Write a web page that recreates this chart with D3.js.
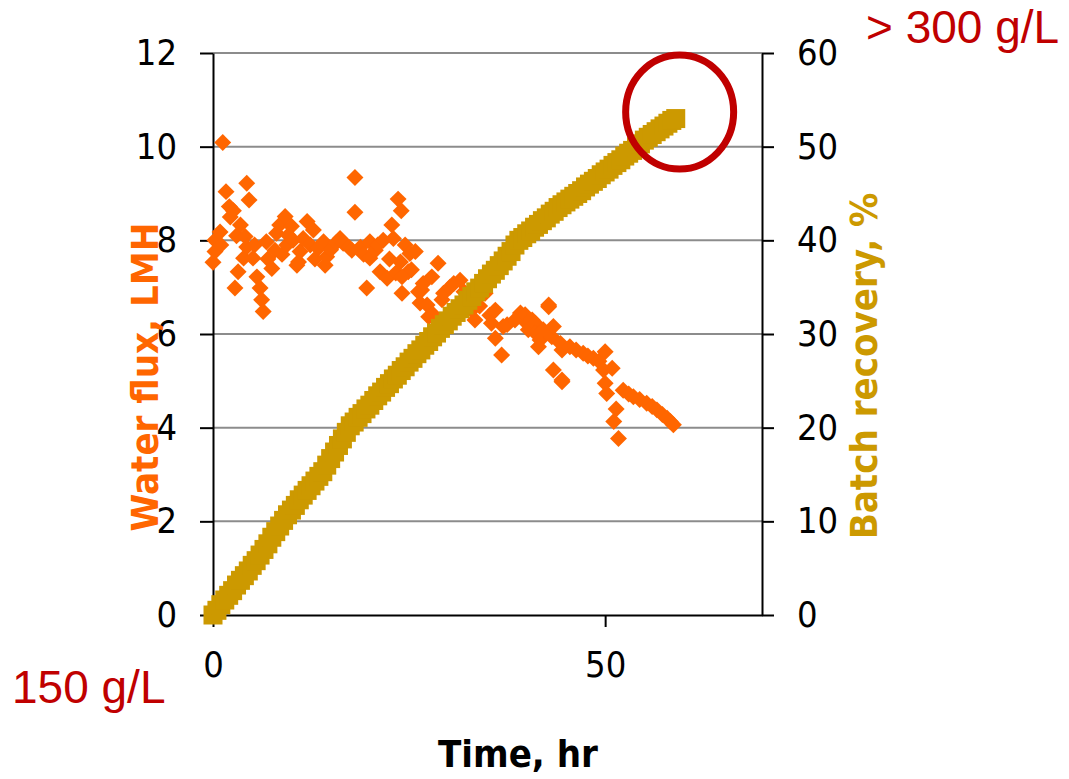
<html>

<head>
  <meta charset="UTF-8">
  <title>Water flux and batch recovery</title>
  <script src="https://d3js.org/d3.v7.min.js"></script>
  <style>
    body {
      margin: 0;
      background-color: white;
    }
    .tick-label {
      font-family: "DejaVu Sans Condensed", "DejaVu Sans", sans-serif;
      font-stretch: condensed;
      font-size: 36px;
      fill: black;
    }
    .axis-title {
      font-family: "DejaVu Sans Condensed", "DejaVu Sans", sans-serif;
      font-stretch: condensed;
      font-weight: bold;
      font-size: 38px;
    }
    .note {
      font-family: "Liberation Sans", Arial, sans-serif;
      font-size: 46px;
      fill: #C00000;
    }
  </style>
</head>

<body>
  <svg></svg>
</body>

<script>
  let width = 1069,
    height = 779;

  // Water flux (LMH) vs time (hr)
  let fluxTime = [0, 0.25, 0.25, 0.9, 1.0, 1.24, 1.66, 2.08, 2.2, 2.6, 2.8, 3.0, 3.2, 3.5, 3.9, 4.1, 4.3, 4.3, 4.6, 5.1, 5.3, 5.6, 6.0, 6.2, 6.4, 6.8, 7.0, 7.5, 7.9, 8.1, 8.5, 8.8, 9.2, 9.4, 9.6, 10.0, 10.2, 10.7, 10.9, 11.1, 11.5, 12.0, 12.4, 12.8, 13.0, 13.4, 14.1, 14.3, 14.5, 15.0, 15.7, 16.2, 16.6, 17.3, 17.7, 18.1, 18.1, 18.8, 19.2, 19.6, 20.0, 20.0, 20.7, 21.0, 21.3, 21.7, 22.2, 22.5, 22.8, 23.0, 23.3, 23.6, 23.9,
    24.0, 24.1, 24.1, 24.5, 24.9, 25.1, 25.3, 25.8, 26.2, 26.4, 26.6, 26.8, 27.3, 27.5, 27.9, 28.1, 28.7, 29.2, 29.4, 30.2, 30.7, 31.5, 32.0, 33.0, 33.4, 34.0, 34.7, 35.3, 35.5, 36.0, 36.0, 36.8, 37.0, 37.5, 38.5, 39.2, 39.8, 40.0, 40.2, 40.7, 41.1, 41.1, 41.5, 41.7, 42.1, 42.8, 42.8, 43.2, 43.4, 43.4, 44.3, 44.5, 44.5, 44.5, 45.5, 46.3, 47.2, 47.8, 48.5, 49.2, 49.8, 50.0, 50.0, 50.2, 50.9, 51.1, 51.4, 51.7, 52.3, 53.0, 53.6, 54.4, 55.3, 56.0, 56.6, 57.3, 57.9, 58.3, 58.7];
  let fluxValue = [7.53, 8.0, 7.76, 8.18, 7.9, 10.09, 9.04, 8.72, 8.5, 8.63, 6.98, 8.1, 7.33, 8.33, 7.62, 8.08, 9.22, 7.86, 8.86, 7.62, 7.9, 7.22, 6.98, 6.73, 6.48, 7.97, 7.6, 7.40, 7.79, 8.15, 8.33, 7.7, 8.51, 7.90, 8.11, 8.3, 8.0, 7.47, 7.54, 7.76, 8.04, 8.40, 7.9, 8.22, 7.6, 7.83, 7.97, 7.47, 7.65, 7.8, 7.95, 8.04, 7.94, 7.86, 7.79, 9.34, 8.60, 7.85, 7.7, 6.98, 7.97, 7.62, 7.79, 7.9, 7.33, 8.0, 7.19, 7.6, 8.33, 8.04, 7.3, 8.88, 7.54,
    8.63, 7.22, 6.87, 7.9, 7.33, 7.72, 7.37, 7.76, 6.90, 6.66, 6.94, 7.08, 6.62, 6.37, 7.22, 6.41, 7.51, 6.73, 6.87, 7.0, 7.08, 7.15, 6.9, 6.51, 6.30, 6.6, 6.87, 6.4, 6.23, 6.51, 5.91, 5.55, 6.16, 6.2, 6.3, 6.45, 6.41, 6.23, 6.09, 6.3, 6.23, 6.02, 5.73, 5.87, 6.09, 6.58, 6.62, 5.94, 6.16, 5.23, 5.80, 5.66, 5.02, 4.98, 5.73, 5.66, 5.59, 5.53, 5.48, 5.42, 5.23, 5.62, 4.95, 4.73, 5.27, 4.13, 4.4, 3.77, 4.80, 4.72, 4.66, 4.6, 4.52, 4.45, 4.38, 4.28, 4.20, 4.13, 4.06];

  // Batch recovery (%) vs time (hr)
  let recTime = [0, 0.5, 1, 1.5, 2, 2.5, 3, 3.5, 4, 4.5, 5, 5.5, 6, 6.5, 7, 7.5, 8, 8.5, 9, 9.5, 10, 10.5, 11, 11.5, 12, 12.5, 13, 13.5, 14, 14.5, 15, 15.5, 16, 16.5, 17, 17.5, 18, 18.5, 19, 19.5, 20, 20.5, 21, 21.5, 22, 22.5, 23, 23.5, 24, 24.5, 25, 25.5, 26, 26.5, 27, 27.5, 28, 28.5, 29, 29.5, 30, 30.5, 31, 31.5, 32, 32.5, 33, 33.5, 34, 34.5, 35, 35.5, 36, 36.5, 37, 37.5, 38, 38.5, 39, 39.5, 40, 40.5, 41, 41.5, 42, 42.5, 43, 43.5, 44, 44.5, 45, 45.5, 46, 46.5, 47, 47.5, 48, 48.5, 49, 49.5, 50, 50.5, 51, 51.5, 52, 52.5, 53, 53.5, 54, 54.5, 55, 55.5, 56, 56.5, 57, 57.5, 58, 58.5, 59];
  let recValue = [0, 0.5, 1.1, 1.6, 2.1, 2.6, 3.2, 3.7, 4.2, 4.7, 5.3, 5.8, 6.4, 7.0, 7.6, 8.3, 8.9, 9.5, 10.1, 10.7, 11.2, 11.7, 12.3, 12.8, 13.3, 13.8, 14.3, 14.8, 15.3, 16.0, 16.7, 17.4, 18.1, 18.8, 19.5, 20.2, 20.6, 21.1, 21.5, 22.0, 22.4, 22.9, 23.4, 23.8, 24.3, 24.7, 25.2, 25.6, 26.1, 26.5, 27.0, 27.4, 27.9, 28.3, 28.8, 29.2, 29.7, 30.1, 30.6, 31.0, 31.4, 31.9, 32.3, 32.7, 33.1, 33.6, 34.0, 34.5, 34.9, 35.4, 35.9, 36.4, 36.8, 37.3, 37.8, 38.3, 38.8, 39.5, 40.0, 40.3, 40.7, 41.0, 41.4, 41.7, 42.1, 42.4, 42.8, 43.1, 43.5, 43.8, 44.1, 44.4, 44.7, 45.0, 45.3, 45.7, 46.0, 46.3, 46.6, 47.0, 47.3, 47.6, 48.0, 48.3, 48.6, 49.0, 49.3, 49.6, 50.0, 50.3, 50.7, 51.0, 51.3, 51.6, 51.9, 52.2, 52.5, 52.8, 53.0];

  let xTicks = [0, 50];
  let leftTicks = [0, 2, 4, 6, 8, 10, 12];
  let rightTicks = [0, 10, 20, 30, 40, 50, 60];

  // highlighted end point
  let endTime = 59.5,
    endRecovery = 53.7;

  let orange = "#FF6600",
    gold = "#CC9900",
    red = "#C00000";

  let svg = d3.select("svg")
    .attr("width", width)
    .attr("height", height);

  let x = d3.scaleLinear().domain([0, 70]).range([213, 762]);
  let yLeft = d3.scaleLinear().domain([0, 12]).range([615, 53]);
  let yRight = d3.scaleLinear().domain([0, 60]).range([615, 53]);

  // gridlines
  svg.append("g")
    .selectAll("line")
    .data(leftTicks.slice(1))
    .enter()
    .append("line")
    .attr("x1", x(0))
    .attr("x2", x(70))
    .attr("y1", d => yLeft(d))
    .attr("y2", d => yLeft(d))
    .attr("stroke", "#8c8c8c")
    .attr("stroke-width", 2);

  // axes
  let leftAxis = svg.append("g")
    .attr("transform", "translate(" + x(0) + ",0)")
    .call(d3.axisLeft(yLeft).tickValues(leftTicks).tickSize(13).tickSizeOuter(0).tickPadding(23).tickFormat(d3.format("d")));

  let rightAxis = svg.append("g")
    .attr("transform", "translate(" + x(70) + ",0)")
    .call(d3.axisRight(yRight).tickValues(rightTicks).tickSize(12).tickSizeOuter(0).tickPadding(23).tickFormat(d3.format("d")));

  let bottomAxis = svg.append("g")
    .attr("transform", "translate(0," + yLeft(0) + ")")
    .call(d3.axisBottom(x).tickValues(xTicks).tickSize(12).tickSizeOuter(0).tickPadding(24).tickFormat(d3.format("d")));

  [leftAxis, rightAxis, bottomAxis].forEach(a => {
    a.select(".domain").attr("stroke", "black").attr("stroke-width", 2);
    a.selectAll(".tick line").attr("stroke", "black").attr("stroke-width", 2);
    a.selectAll(".tick text").attr("class", "tick-label");
    a.attr("font-size", null).attr("font-family", null);
  });

  // water flux markers (diamonds)
  let flux = fluxTime.map((t, i) => ({ t: t, v: fluxValue[i] }));
  svg.append("g")
    .selectAll("path")
    .data(flux)
    .enter()
    .append("path")
    .attr("d", d3.symbol(d3.symbolSquare, 144))
    .attr("transform", d => "translate(" + x(d.t) + "," + yLeft(d.v) + ") rotate(45)")
    .attr("fill", orange);

  // batch recovery markers (squares)
  let recovery = recTime.map((t, i) => ({ t: t, v: recValue[i] }));
  svg.append("g")
    .selectAll("rect")
    .data(recovery)
    .enter()
    .append("rect")
    .attr("x", d => x(d.t) - 9.5)
    .attr("y", d => yRight(d.v) - 9.5)
    .attr("width", 19)
    .attr("height", 19)
    .attr("fill", gold);

  // red ring round the final point
  svg.append("ellipse")
    .attr("cx", x(endTime))
    .attr("cy", yRight(endRecovery))
    .attr("rx", 54)
    .attr("ry", 57)
    .attr("fill", "none")
    .attr("stroke", red)
    .attr("stroke-width", 7);

  // axis titles
  svg.append("text")
    .attr("class", "axis-title")
    .attr("transform", "translate(158,377) rotate(-90)")
    .attr("text-anchor", "middle")
    .attr("fill", orange)
    .text("Water flux, LMH");

  svg.append("text")
    .attr("class", "axis-title")
    .attr("transform", "translate(877,366) rotate(-90)")
    .attr("text-anchor", "middle")
    .attr("fill", gold)
    .text("Batch recovery, %");

  svg.append("text")
    .attr("class", "axis-title")
    .attr("x", 518)
    .attr("y", 767)
    .attr("text-anchor", "middle")
    .attr("fill", "black")
    .text("Time, hr");

  // concentration notes
  svg.append("text")
    .attr("class", "note")
    .attr("x", 12)
    .attr("y", 703)
    .text("150 g/L");

  svg.append("text")
    .attr("class", "note")
    .attr("x", 866)
    .attr("y", 43)
    .text("> 300 g/L");
</script>
</html>
